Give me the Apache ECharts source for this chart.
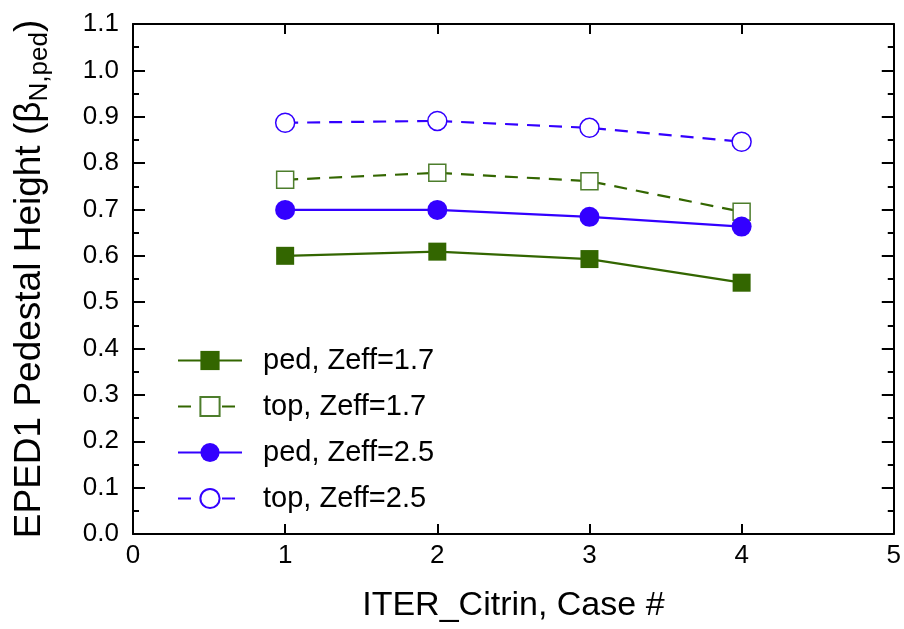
<!DOCTYPE html>
<html>
<head>
<meta charset="utf-8">
<script src="https://cdn.jsdelivr.net/npm/echarts@6/dist/echarts.min.js"></script>
<style>
  html, body { margin: 0; padding: 0; background: #fff; }
  #chart { width: 904px; height: 629px; }
</style>
</head>
<body>
<div id="chart"></div>
<script>
// Case numbers along the horizontal axis
const cases = [1, 2, 3, 4];

// Pedestal height values (beta_N,ped) per case
const pedZeff17 = [0.600, 0.609, 0.593, 0.542];
const topZeff17 = [0.764, 0.779, 0.761, 0.695];
const pedZeff25 = [0.699, 0.699, 0.684, 0.663];
const topZeff25 = [0.887, 0.891, 0.876, 0.846];

const seriesNames = ['ped, Zeff=1.7', 'top, Zeff=1.7', 'ped, Zeff=2.5', 'top, Zeff=2.5'];

const GREEN = '#336600';
const GREEN_OPEN = '#4d7d2c';
const BLUE = '#3300ff';
const FONT = 'Liberation Sans, Arial, Helvetica, sans-serif';

const pairs = ys => cases.map((c, i) => [c, ys[i]]);

const chart = echarts.init(document.getElementById('chart'), null, { renderer: 'canvas' });

const axisLine = { show: true, onZero: false, lineStyle: { color: '#000', width: 2 } };
const tickStyle = { width: 2, color: '#000' };

function makeSeries(name, ys, color, symbol, size, dashed, fillColor) {
  return {
    name: name,
    type: 'line',
    data: pairs(ys),
    symbol: symbol,
    symbolSize: size,
    showSymbol: true,
    lineStyle: { color: color, width: 2.2, type: dashed ? [13, 9] : 'solid' },
    itemStyle: { color: fillColor || color, borderColor: color, borderWidth: fillColor ? 1.5 : 0 },
    emphasis: { disabled: true },
    animation: false,
    z: 3
  };
}

const option = {
  backgroundColor: '#fff',
  animation: false,
  grid: { left: 133, right: 7, top: 24, bottom: 95, containLabel: false },
  legend: {
    orient: 'vertical',
    left: 177,
    top: 346,
    padding: 0,
    itemWidth: 64,
    itemHeight: 24,
    itemGap: 17,
    data: seriesNames,
    textStyle: { fontFamily: FONT, fontSize: 29, color: '#000', padding: [0, 0, 0, 16] },
    selectedMode: false
  },
  xAxis: [
    {
      type: 'value', min: 0, max: 5, interval: 1,
      position: 'bottom',
      axisLine: axisLine,
      axisTick: { show: true, inside: true, length: 10, lineStyle: tickStyle },
      minorTick: { show: false },
      splitLine: { show: false },
      axisLabel: { fontFamily: FONT, fontSize: 26, color: '#000', margin: 9 },
      name: 'ITER_Citrin, Case #',
      nameLocation: 'middle',
      nameGap: 55,
      nameTextStyle: { fontFamily: FONT, fontSize: 34, color: '#000' }
    },
    {
      type: 'value', min: 0, max: 5, interval: 1,
      position: 'top',
      axisLine: axisLine,
      axisTick: { show: true, inside: true, length: 10, lineStyle: tickStyle },
      axisLabel: { show: false },
      splitLine: { show: false }
    }
  ],
  yAxis: [
    {
      type: 'value', min: 0, max: 1.1, interval: 0.1,
      position: 'left',
      axisLine: axisLine,
      axisTick: { show: true, inside: true, length: 12, lineStyle: tickStyle },
      minorTick: { show: true, splitNumber: 2, length: 6, lineStyle: tickStyle },
      splitLine: { show: false },
      axisLabel: {
        fontFamily: FONT, fontSize: 26, color: '#000', margin: 14,
        formatter: v => v.toFixed(1)
      },
      name: '{a|EPED1 Pedestal Height (β}{s|N,ped}{a|)}',
      nameLocation: 'middle',
      nameGap: 80,
      nameRotate: 90,
      nameTextStyle: {
        color: '#000',
        rich: {
          a: { fontFamily: FONT, fontSize: 37, color: '#000', lineHeight: 46, verticalAlign: 'middle' },
          s: { fontFamily: FONT, fontSize: 26, color: '#000', lineHeight: 46, verticalAlign: 'bottom' }
        }
      }
    },
    {
      type: 'value', min: 0, max: 1.1, interval: 0.1,
      position: 'right',
      axisLine: axisLine,
      axisTick: { show: true, inside: true, length: 12, lineStyle: tickStyle },
      minorTick: { show: true, splitNumber: 2, length: 6, lineStyle: tickStyle },
      splitLine: { show: false },
      axisLabel: { show: false }
    }
  ],
  series: [
    makeSeries(seriesNames[0], pedZeff17, GREEN, 'rect', 18, false),
    makeSeries(seriesNames[1], topZeff17, GREEN_OPEN, 'rect', 17, true, '#fff'),
    makeSeries(seriesNames[2], pedZeff25, BLUE, 'circle', 20, false),
    makeSeries(seriesNames[3], topZeff25, BLUE, 'circle', 19, true, '#fff')
  ]
};

// Open-marker series keep the darker green for their connecting line
option.series[1].lineStyle.color = GREEN;

chart.setOption(option);
</script>
</body>
</html>
